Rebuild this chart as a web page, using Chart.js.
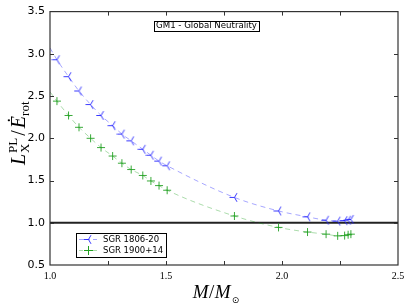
<!DOCTYPE html>
<html>
<head>
<meta charset="utf-8">
<script src="https://cdn.jsdelivr.net/npm/chart.js@4/dist/chart.umd.min.js"></script>
<style>
    html, body { margin: 0; padding: 0; background: #fff; }
    #wrap { width: 415px; height: 305px; }
</style>
</head>
<body>
<div id="wrap"><canvas id="chartroot"></canvas></div>
<script>
// data
const masses  = [1.03, 1.08, 1.125, 1.175, 1.22, 1.27, 1.31, 1.35, 1.40, 1.435, 1.47, 1.505, 1.795, 1.985, 2.11, 2.19, 2.24, 2.27, 2.285, 2.297];
const sgr1806 = [2.93, 2.73, 2.56, 2.40, 2.27, 2.15, 2.05, 1.97, 1.87, 1.80, 1.73, 1.675, 1.30, 1.14, 1.07, 1.03, 1.02, 1.025, 1.03, 1.04];
const sgr1900 = [2.44, 2.27, 2.13, 2.00, 1.89, 1.79, 1.705, 1.63, 1.56, 1.495, 1.44, 1.385, 1.08, 0.945, 0.89, 0.865, 0.845, 0.848, 0.858, 0.865];
// where the dashed fit curves meet the left axis
const fitStartMass = 1.0;
const fitStart1806 = 3.07;
const fitStart1900 = 2.55;
const seriesLabels = ['SGR 1806-20', 'SGR 1900+14'];
const refLevel = 1.0;
const xTicks = [1.0, 1.5, 2.0, 2.5];
const yTicks = [0.5, 1.0, 1.5, 2.0, 2.5, 3.0, 3.5];
const boxText = 'GM1 - Global Neutrality';

const BLUE = '#2222ff';
const GREEN = '#22a022';

const pts = (xs, ys) => xs.map((x, i) => ({ x, y: ys[i] }));

function triLeft(size, color) {
    const c = document.createElement('canvas');
    c.width = c.height = size;
    const g = c.getContext('2d');
    const m = size / 2, r = size / 2 - 0.5;
    g.strokeStyle = color;
    g.lineWidth = 0.9;
    g.beginPath();
    g.moveTo(m, m); g.lineTo(m - r, m);
    g.moveTo(m, m); g.lineTo(m + r * 0.5, m - r * 0.866);
    g.moveTo(m, m); g.lineTo(m + r * 0.5, m + r * 0.866);
    g.stroke();
    return c;
}
const triMarker = triLeft(11, BLUE);

// frame, inward ticks, reference line, legend, text box, axis labels
const decor = {
    id: 'decor',
    beforeDatasetsDraw(chart) {
        const ctx = chart.ctx, a = chart.chartArea, ys = chart.scales.y;
        const py = ys.getPixelForValue(refLevel);
        ctx.save();
        ctx.strokeStyle = '#222';
        ctx.lineWidth = 2;
        ctx.beginPath();
        ctx.moveTo(a.left, py); ctx.lineTo(a.right, py);
        ctx.stroke();
        ctx.restore();
    },
    afterDraw(chart) {
        const ctx = chart.ctx, a = chart.chartArea;
        const xs = chart.scales.x, ys = chart.scales.y;
        ctx.save();
        ctx.strokeStyle = '#333';
        ctx.lineWidth = 1.2;
        ctx.strokeRect(a.left, a.top, a.right - a.left, a.bottom - a.top);

        ctx.lineWidth = 1;
        ctx.beginPath();
        xs.ticks.forEach(t => {
            const px = Math.round(xs.getPixelForValue(t.value)) + 0.5;
            if (px < a.left + 2 || px > a.right - 2) return;
            ctx.moveTo(px, a.bottom); ctx.lineTo(px, a.bottom - 4);
            ctx.moveTo(px, a.top); ctx.lineTo(px, a.top + 4);
        });
        ys.ticks.forEach(t => {
            const py = Math.round(ys.getPixelForValue(t.value)) + 0.5;
            if (py < a.top + 2 || py > a.bottom - 2) return;
            ctx.moveTo(a.left, py); ctx.lineTo(a.left + 4, py);
            ctx.moveTo(a.right, py); ctx.lineTo(a.right - 4, py);
        });
        ctx.stroke();

        // text box
        ctx.font = '8.6px "DejaVu Sans"';
        ctx.textBaseline = 'middle';
        ctx.textAlign = 'center';
        const tw = ctx.measureText(boxText).width;
        const cx = 206.5, cy = 25.5;
        ctx.fillStyle = '#fff';
        ctx.fillRect(cx - tw / 2 - 2, cy - 5, tw + 4, 10);
        ctx.strokeStyle = '#000';
        ctx.lineWidth = 1;
        ctx.strokeRect(Math.round(cx - tw / 2 - 2) + 0.5, Math.round(cy - 5) + 0.5, Math.round(tw + 4), 10);
        ctx.fillStyle = '#000';
        ctx.fillText(boxText, cx, cy + 0.5);

        // legend
        const lx = 76.5, ly = 233.5, lw = 90, lh = 24;
        ctx.fillStyle = '#fff';
        ctx.fillRect(lx, ly, lw, lh);
        ctx.strokeStyle = '#000';
        ctx.strokeRect(lx, ly, lw, lh);
        const rows = [
            { y: 239, label: seriesLabels[0], color: 'rgba(0,0,255,0.35)' },
            { y: 250, label: seriesLabels[1], color: 'rgba(18,154,18,0.35)' }
        ];
        rows.forEach((r, i) => {
            ctx.strokeStyle = r.color;
            ctx.setLineDash([4, 3]);
            ctx.beginPath();
            ctx.moveTo(79, r.y + 0.5); ctx.lineTo(98, r.y + 0.5);
            ctx.stroke();
            ctx.setLineDash([]);
            if (i === 0) {
                ctx.drawImage(triMarker, 83, r.y - 5);
            } else {
                ctx.strokeStyle = GREEN;
                ctx.beginPath();
                ctx.moveTo(84, r.y + 0.5); ctx.lineTo(93, r.y + 0.5);
                ctx.moveTo(88.5, r.y - 4); ctx.lineTo(88.5, r.y + 5);
                ctx.stroke();
            }
            ctx.fillStyle = '#000';
            ctx.font = '8.5px "DejaVu Sans"';
            ctx.textAlign = 'left';
            ctx.textBaseline = 'middle';
            ctx.fillText(r.label, 103, r.y + 0.5);
        });

        // x axis label  M/M_sun
        ctx.fillStyle = '#000';
        ctx.textBaseline = 'alphabetic';
        ctx.textAlign = 'left';
        const big = 'italic 19px "Liberation Serif"', up = '19px "Liberation Serif"';
        ctx.font = big; const wM = ctx.measureText('M').width;
        ctx.font = up; const wS = ctx.measureText('/').width;
        ctx.font = '9px "DejaVu Sans"'; const wSun = ctx.measureText('\u2299').width;
        let x0 = 216 - (wM * 2 + wS + wSun + 2) / 2;
        const base = 298;
        ctx.font = big; ctx.fillText('M', x0, base); x0 += wM + 0.5;
        ctx.font = up; ctx.fillText('/', x0, base); x0 += wS + 0.5;
        ctx.font = big; ctx.fillText('M', x0, base); x0 += wM + 1;
        ctx.font = '9px "DejaVu Sans"'; ctx.fillText('\u2299', x0, base + 5);

        // y axis label  L_X^PL / Edot_rot
        ctx.translate(25, 165);
        ctx.rotate(-Math.PI / 2);
        const ybig = 'italic 20px "Liberation Serif"', yup = '20px "Liberation Serif"', ysm = '13px "Liberation Serif"';
        let p = 0;
        ctx.font = ybig; ctx.fillText('L', p, 0); p += ctx.measureText('L').width + 1;
        ctx.font = ysm;
        const wPL = ctx.measureText('PL').width, wX = ctx.measureText('X').width;
        ctx.fillText('PL', p, -8);
        ctx.fillText('X', p, 4);
        p += Math.max(wPL, wX) + 2;
        ctx.font = yup; ctx.fillText('/', p, 0); p += ctx.measureText('/').width + 2;
        ctx.font = ybig; ctx.fillText('\u0116', p, 0); p += ctx.measureText('\u0116').width;
        ctx.font = ysm; ctx.fillText('rot', p, 4);
        ctx.restore();
    }
};

new Chart(document.getElementById('chartroot'), {
    type: 'scatter',
    data: {
        datasets: [
            {
                label: seriesLabels[0] + ' fit',
                data: pts([fitStartMass, ...masses], [fitStart1806, ...sgr1806]),
                showLine: true,
                borderColor: 'rgba(0,0,255,0.35)',
                borderWidth: 1,
                borderDash: [5, 4],
                pointRadius: 0,
                cubicInterpolationMode: 'monotone'
            },
            {
                label: seriesLabels[1] + ' fit',
                data: pts([fitStartMass, ...masses], [fitStart1900, ...sgr1900]),
                showLine: true,
                borderColor: 'rgba(18,154,18,0.35)',
                borderWidth: 1,
                borderDash: [5, 4],
                pointRadius: 0,
                cubicInterpolationMode: 'monotone'
            },
            {
                label: seriesLabels[0],
                data: pts(masses, sgr1806),
                showLine: false,
                pointStyle: triMarker,
                pointRadius: 5.5
            },
            {
                label: seriesLabels[1],
                data: pts(masses, sgr1900),
                showLine: false,
                pointStyle: 'cross',
                pointRadius: 4,
                borderColor: GREEN,
                borderWidth: 0.9
            }
        ]
    },
    options: {
        responsive: true,
        maintainAspectRatio: false,
        animation: false,
        layout: { padding: { top: 6, right: 17, left: 0, bottom: 0 } },
        plugins: { legend: { display: false }, tooltip: { enabled: false } },
        scales: {
            x: {
                type: 'linear',
                min: 1.0,
                max: 2.5,
                afterFit: s => { s.height = 40; },
                afterBuildTicks: s => { s.ticks = [1.0, 1.25, 1.5, 1.75, 2.0, 2.25, 2.5].map(v => ({ value: v })); },
                ticks: {
                    padding: 5,
                    color: '#000',
                    font: { family: 'Liberation Serif', size: 10 },
                    maxRotation: 0,
                    autoSkip: false,
                    callback: v => xTicks.some(t => Math.abs(t - v) < 1e-9) ? v.toFixed(1) : ''
                },
                grid: { drawOnChartArea: false, drawTicks: false },
                border: { display: false }
            },
            y: {
                min: 0.5,
                max: 3.5,
                afterFit: s => { s.width = 50; },
                afterBuildTicks: s => { s.ticks = yTicks.map(v => ({ value: v })); },
                ticks: {
                    padding: 5,
                    color: '#000',
                    font: { family: 'DejaVu Sans', size: 11 },
                    callback: v => v.toFixed(1)
                },
                grid: { drawOnChartArea: false, drawTicks: false },
                border: { display: false }
            }
        }
    },
    plugins: [decor]
});
</script>
</body>
</html>
